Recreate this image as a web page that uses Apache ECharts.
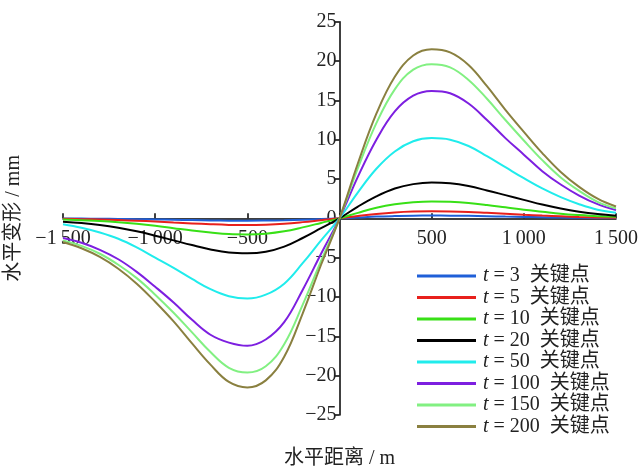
<!DOCTYPE html>
<html>
<head>
<meta charset="utf-8">
<script src="https://cdn.jsdelivr.net/npm/echarts@6/dist/echarts.min.js"></script>
<style>
html,body{margin:0;padding:0;background:#fff;}
#chart{width:642px;height:466px;}
</style>
</head>
<body>
<div id="chart"></div>
<script>
// Horizontal distance (m)
const xs = [-1500,-1400,-1300,-1200,-1100,-1000,-900,-800,-700,-600,-500,-400,-300,-200,-100,0,
            100,200,300,400,500,600,700,800,900,1000,1100,1200,1300,1400,1500];

// Horizontal deformation (mm) per time step
const t3   = [-0.02,-0.03,-0.05,-0.07,-0.1,-0.14,-0.18,-0.22,-0.26,-0.29,-0.3,-0.28,-0.24,-0.17,-0.09,0,
              0.11,0.22,0.29,0.34,0.35,0.34,0.32,0.27,0.22,0.18,0.14,0.1,0.07,0.05,0.03];
const t5   = [-0.05,-0.1,-0.15,-0.22,-0.3,-0.4,-0.52,-0.64,-0.75,-0.83,-0.85,-0.8,-0.68,-0.48,-0.24,0,
              0.3,0.56,0.75,0.86,0.9,0.88,0.82,0.7,0.58,0.46,0.35,0.26,0.18,0.12,0.08];
const t10  = [-0.15,-0.25,-0.35,-0.5,-0.7,-0.95,-1.25,-1.55,-1.8,-2.0,-2.05,-1.95,-1.65,-1.15,-0.58,0,
              0.7,1.35,1.8,2.05,2.15,2.1,1.95,1.7,1.4,1.1,0.85,0.6,0.42,0.28,0.2];
const t20  = [-0.43,-0.6,-0.85,-1.2,-1.65,-2.2,-2.8,-3.4,-3.95,-4.35,-4.45,-4.25,-3.6,-2.5,-1.25,0,
              1.5,2.8,3.8,4.35,4.55,4.45,4.1,3.55,2.95,2.35,1.75,1.25,0.85,0.55,0.34];
const t50  = [-0.75,-1.2,-1.8,-2.6,-3.7,-5.0,-6.3,-7.7,-9.0,-9.9,-10.2,-9.7,-8.3,-5.7,-2.8,0,
              3.3,6.3,8.5,9.8,10.2,10.0,9.2,7.9,6.5,5.1,3.8,2.7,1.8,1.1,0.72];
const t100 = [-2.5,-3.1,-4.0,-5.2,-6.8,-8.7,-10.7,-12.9,-14.8,-15.8,-16.2,-15.4,-13.2,-9.1,-4.5,0,
              5.3,10.0,13.6,15.6,16.2,15.9,14.6,12.5,10.2,8.1,6.0,4.3,2.9,1.8,1.05];
const t150 = [-2.8,-3.5,-4.5,-5.9,-7.6,-9.7,-12.0,-14.5,-17.0,-19.0,-19.6,-18.8,-16.0,-11.0,-5.4,0,
              6.4,12.1,16.4,18.9,19.6,19.2,17.6,15.2,12.5,9.9,7.4,5.2,3.5,2.1,1.27];
const t200 = [-3.0,-3.8,-4.9,-6.4,-8.3,-10.6,-13.1,-15.9,-18.6,-20.8,-21.5,-20.6,-17.6,-12.1,-5.9,0,
              7.0,13.3,18.0,20.7,21.5,21.1,19.5,16.8,13.8,11.0,8.3,5.9,4.0,2.5,1.5];

const seriesNames = ['3','5','10','20','50','100','150','200'];
const seriesData = [t3,t5,t10,t20,t50,t100,t150,t200];
const colors = ['#1f5fd8','#e8201c','#38e016','#000000','#20ecec','#7d1fe0','#82f082','#8a8040'];

const FONT = '"Liberation Serif","Times New Roman","Noto Sans CJK SC",serif';

function fmtNum(v){
  const a = Math.abs(v);
  let s = a >= 1000 ? Math.floor(a/1000) + '\u2009' + String(a%1000).padStart(3,'0') : String(a);
  return (v < 0 ? '\u2212' : '') + s;
}

const G = {left: 63, right: 26, top: 21.7, bottom: 51};
const W = 642, H = 466;
const gridW = W - G.left - G.right, gridH = H - G.top - G.bottom;
// axes cross at the origin (x=0 in the middle of [-1500,1500], y=0 in the middle of [-25,25])
const yAxisOffset = -(gridW / 2);
const xAxisOffset = -(gridH / 2);

const chart = echarts.init(document.getElementById('chart'));
chart.setOption({
  backgroundColor: '#fff',
  animation: false,
  grid: Object.assign({containLabel: false, outerBoundsMode: 'none'}, G),
  legend: {
    orient: 'vertical',
    left: 412,
    top: 261,
    itemWidth: 59,
    itemHeight: 3,
    itemGap: 1.5,
    icon: 'rect',
    textStyle: {
      fontFamily: FONT, fontSize: 20, color: '#222', lineHeight: 20, padding: [0,0,0,2],
      rich: { i: {fontStyle: 'italic', fontFamily: FONT, fontSize: 20, lineHeight: 20} }
    },
    formatter: function(name){ return '{i|t} = ' + name.replace('t=','') + '  关键点'; },
    data: seriesNames.map(n => 't=' + n)
  },
  xAxis: {
    type: 'value', min: -1500, max: 1500, interval: 500,
    position: 'bottom', offset: xAxisOffset,
    name: '水平距离 / m', nameLocation: 'middle', nameGap: 230,
    nameTextStyle: {fontFamily: FONT, fontSize: 20, color: '#222'},
    axisLine: {onZero: false, lineStyle: {color: '#000', width: 1.5}},
    axisTick: {inside: true, length: 5, lineStyle: {color: '#000', width: 1.5}},
    axisLabel: {
      fontFamily: FONT, fontSize: 20, color: '#222', margin: 10,
      formatter: v => v === 0 ? '' : fmtNum(v)
    },
    splitLine: {show: false}
  },
  yAxis: {
    type: 'value', min: -25, max: 25, interval: 5,
    position: 'left', offset: yAxisOffset,
    name: '水平变形 / mm', nameLocation: 'middle', nameGap: 316,
    nameTextStyle: {fontFamily: FONT, fontSize: 20, color: '#222'},
    axisLine: {onZero: false, lineStyle: {color: '#000', width: 1.5}},
    axisTick: {inside: false, length: 5, lineStyle: {color: '#000', width: 1.5}},
    axisLabel: {
      fontFamily: FONT, fontSize: 20, color: '#222', margin: 3,
      formatter: v => fmtNum(v)
    },
    splitLine: {show: false}
  },
  series: seriesNames.map((n, i) => ({
    name: 't=' + n,
    type: 'line',
    smooth: 0.4,
    symbol: 'none',
    color: colors[i],
    lineStyle: {width: 2, color: colors[i]},
    data: xs.map((x, j) => [x, seriesData[i][j]])
  }))
});
</script>
</body>
</html>
